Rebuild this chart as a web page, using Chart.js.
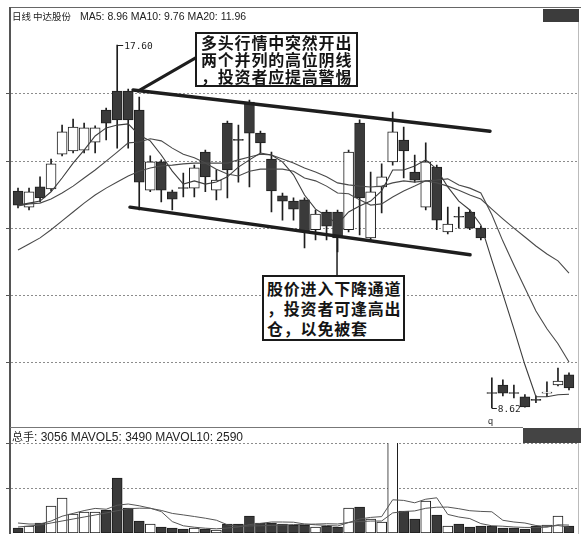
<!DOCTYPE html>
<html><head><meta charset="utf-8">
<script src="https://cdn.jsdelivr.net/npm/chart.js@4.4.1/dist/chart.umd.min.js"></script>
<style>
html,body{margin:0;padding:0;background:#fff;}
body{width:581px;height:534px;position:relative;overflow:hidden;font-family:"Liberation Sans","Noto Sans CJK SC",sans-serif;color:#222;}
canvas{position:absolute;left:0;}
#main{top:0;}
#vol{top:442px;}
.t{position:absolute;white-space:nowrap;color:#222;}
.box{position:absolute;border:2px solid #1a1a1a;background:#fff;font-family:"Noto Sans CJK SC",sans-serif;font-weight:700;color:#151515;box-sizing:border-box;font-size:16px;letter-spacing:0.8px;white-space:nowrap;}
.ln{position:absolute;}
</style></head><body>
<canvas id="main" width="581" height="426"></canvas>
<canvas id="vol" width="581" height="92"></canvas>

<div class="ln" style="left:10px;top:7px;width:571px;height:1px;background:#666;"></div>
<div class="ln" style="left:9px;top:7px;width:2px;height:527px;background:#555;"></div>
<div class="ln" style="left:578px;top:22px;width:1px;height:512px;background:#bbb;"></div>
<div class="ln" style="left:543px;top:9px;width:36px;height:13px;background:#3c3c3c;"></div>
<div class="ln" style="left:10px;top:427px;width:513px;height:1px;background:#777;"></div>
<div class="ln" style="left:523px;top:428px;width:58px;height:15px;background:#444;"></div>

<div class="t" style="left:12px;top:10px;font-size:9.5px;font-family:'Noto Sans CJK SC';line-height:12px;">日线</div>
<div class="t" style="left:33px;top:10px;font-size:9.5px;font-family:'Noto Sans CJK SC';line-height:12px;">中达股份</div>
<div class="t" style="left:80px;top:10px;font-size:10.5px;line-height:12px;">MA5: 8.96 MA10: 9.76 MA20: 11.96</div>

<div class="t" style="left:12px;top:429px;font-size:12px;line-height:14px;"><span style="font-family:'Noto Sans CJK SC';font-size:11px;">总手</span>: 3056 MAVOL5: 3490 MAVOL10: 2590</div>
<div class="t" style="left:488px;top:416px;font-size:9px;line-height:10px;">q</div>

<div class="box" style="left:195px;top:32px;width:163px;height:55px;line-height:17px;padding:0 0 0 4px;">多头行情中突然开出<br>两个并列的高位阴线<br>，投资者应提高警惕</div>
<div class="box" style="left:262px;top:275px;width:143px;height:66px;line-height:20px;padding:1px 0 0 3px;">股价进入下降通道<br>，投资者可逢高出<br>仓，以免被套</div>

<script>
// ---------- data ----------
const days = Array.from({length:51},(_,i)=>String(i+1));
const open  = [13.99,13.59,14.09,14.04,14.90,14.98,15.00,15.20,15.99,16.46,
               16.46,15.99,14.01,14.71,13.97,14.06,14.06,14.95,14.01,15.67,
               15.25,16.19,15.42,14.78,13.87,13.74,13.77,13.03,13.47,13.47,
               13.03,15.67,12.83,14.09,14.71,15.25,14.46,13.59,14.58,12.98,
               13.35,13.47,13.07,8.99,9.19,8.99,8.90,8.82,8.99,9.19,9.44];
const high  = [14.06,14.06,14.34,14.78,15.62,15.77,15.67,15.60,16.04,17.60,
               16.51,16.31,14.86,14.76,14.01,14.43,14.63,15.00,14.51,15.72,
               15.62,16.24,15.47,14.95,13.94,13.82,13.82,13.52,13.52,13.52,
               15.00,15.75,14.46,14.66,15.94,15.57,14.88,15.18,14.63,13.59,
               13.59,13.52,13.12,9.37,9.32,9.19,8.95,8.92,9.27,9.61,9.49];
const low   = [13.57,13.52,13.72,13.99,14.86,14.93,14.93,14.93,15.25,15.05,
               15.05,13.52,13.97,13.72,13.52,13.84,13.84,13.97,13.77,13.82,
               14.21,14.09,14.93,13.47,13.27,13.27,12.58,12.78,12.78,12.48,
               12.98,12.90,12.78,13.45,14.63,14.31,14.21,13.52,13.03,12.93,
               13.07,13.03,12.78,8.62,8.92,8.87,8.64,8.75,8.90,9.17,9.07];
const close = [13.64,13.97,13.82,14.66,15.45,15.57,15.55,15.55,15.67,15.75,
               15.75,14.21,14.71,14.01,13.79,14.05,14.56,14.34,14.26,14.51,
               15.24,15.42,15.18,13.99,13.74,13.54,12.98,13.42,13.12,12.83,
               14.95,13.82,13.97,14.34,15.45,14.98,14.26,14.71,13.27,13.17,
               13.34,13.07,12.83,8.98,8.99,8.98,8.65,8.81,9.00,9.29,9.12];
const ma5   = [13.64,13.69,13.74,13.97,14.31,14.68,15.00,15.35,15.55,15.62,
               15.65,15.37,15.23,14.88,14.48,14.16,14.24,14.16,14.21,14.34,
               14.58,14.76,14.93,14.88,14.71,14.39,13.89,13.54,13.37,13.17,
               13.47,13.62,13.74,13.99,14.51,14.51,14.61,14.76,14.53,14.09,
               13.74,13.52,13.15,12.28,11.44,10.58,9.69,8.90,8.90,8.95,8.96];
const ma10  = [13.62,13.67,13.69,13.79,13.94,14.11,14.31,14.51,14.73,14.95,
               15.18,15.20,15.28,15.23,15.05,14.90,14.81,14.68,14.53,14.41,
               14.36,14.48,14.53,14.53,14.53,14.48,14.31,14.24,14.11,13.94,
               13.92,13.77,13.64,13.67,13.84,13.99,14.11,14.24,14.26,14.29,
               14.14,14.06,13.94,13.40,12.75,12.16,11.59,11.02,10.58,10.21,9.76];
const ma20  = [12.53,12.68,12.83,13.03,13.25,13.47,13.69,13.89,14.06,14.21,
               14.36,14.48,14.56,14.61,14.63,14.66,14.68,14.68,14.68,14.68,
               14.76,14.83,14.90,14.88,14.78,14.68,14.56,14.46,14.34,14.19,
               14.14,14.11,14.09,14.11,14.19,14.24,14.21,14.24,14.19,14.11,
               14.01,13.89,13.79,13.54,13.30,13.07,12.85,12.63,12.43,12.26,11.96];
const volume = [2200,3080,4400,11880,15400,8360,9240,9240,10120,24200,
                11000,5280,3960,2640,2200,1760,2200,1760,1320,3960,
                3960,7480,4400,4400,3960,3520,3520,2640,3080,2640,
                11000,11440,6160,4840,42000,9680,6160,14080,7920,3080,
                3960,2640,3080,3080,2200,2200,1760,3080,3520,7480,3056];
const mavol5 = [4400,3960,3960,5280,7390,8620,9860,10820,10470,12230,
                12760,11970,10910,9420,5020,3170,2550,2110,1850,2200,
                2640,3700,4220,4840,4840,4750,3960,3610,3340,3080,
                4580,6160,6860,7220,14610,14340,13290,14870,15490,8180,
                7040,6340,4140,3170,2990,2640,2460,2460,2550,3610,3490];
const mavol10 = [2640,3080,3520,4400,5280,6160,7040,7920,8800,9810,
                 10690,10910,10870,9940,8620,7960,7260,6510,5630,3610,
                 2900,3120,3170,3340,3520,3700,3830,3920,4090,3960,
                 4660,5060,5240,5280,8840,9460,9720,10870,11350,11400,
                 10690,9810,9500,9330,5590,4840,4400,3300,2860,3300,2590];
// grid levels
const priceGridLines = [16.41,14.73,13.07,11.42,9.76];
const volGridLines = [19800,39600];
// author's drawn annotation lines (x = day index, y = price)
const upperChannel = [{x:10.44,y:16.49},{x:42.83,y:15.47}];
const lowerChannel = [{x:10.16,y:13.59},{x:41.02,y:12.41}];
const pointerTop   = [{x:16.24,y:17.30},{x:10.89,y:16.46}];
const pointerLow   = [{x:28.95,y:12.85},{x:28.95,y:11.87}];

// ---------- derived drawing structures ----------
const bodies = open.map((o,i)=>[o,close[i]]);
const wicks  = low.map((l,i)=>[l,high[i]]);
const isUp = close.map((c,i)=>c>=open[i]);
const dark = '#3a3a3a', ink = '#1e1e1e';
const bodyFill = isUp.map(u=>u?'#ffffff':dark);

function hline(ctx,x1,x2,y){ctx.beginPath();ctx.moveTo(x1,y);ctx.lineTo(x2,y);ctx.stroke();}

const mainOverlay = {
  id:'mainOverlay',
  beforeDatasetsDraw(chart){
    const y = chart.scales.y, ctx = chart.ctx;
    ctx.save();
    ctx.strokeStyle = '#8c8c8c'; ctx.lineWidth = 1; ctx.setLineDash([2,2]);
    priceGridLines.forEach(v=>{const py=Math.round(y.getPixelForValue(v))+0.5; hline(ctx,11,578,py);});
    ctx.setLineDash([]); ctx.strokeStyle='#555';
    priceGridLines.forEach(v=>{const py=Math.round(y.getPixelForValue(v))+0.5; hline(ctx,6,10,py);});
    ctx.restore();
  },
  afterDatasetsDraw(chart){
    const xs = chart.scales.x, ys = chart.scales.y, ctx = chart.ctx;
    const hi = Math.max(...high), lo = Math.min(...low);
    const ih = high.indexOf(hi), il = low.indexOf(lo);
    ctx.save();
    ctx.strokeStyle = ink; ctx.fillStyle = ink; ctx.lineWidth = 1;
    ctx.font = '9.5px "DejaVu Sans Mono", monospace'; ctx.textBaseline = 'middle';
    let px = xs.getPixelForValue(ih), py = Math.round(ys.getPixelForValue(hi))+0.5;
    hline(ctx,px,px+6,py); ctx.fillText(hi.toFixed(2),px+7,py+1);
    px = xs.getPixelForValue(il); py = Math.round(ys.getPixelForValue(lo))+0.5;
    hline(ctx,px,px+5,py); ctx.fillText(lo.toFixed(2),px+6,py+1);
    ctx.restore();
  }
};
const volOverlay = {
  id:'volOverlay',
  beforeDatasetsDraw(chart){
    const y = chart.scales.y, ctx = chart.ctx;
    ctx.save();
    ctx.strokeStyle = '#8c8c8c'; ctx.lineWidth = 1; ctx.setLineDash([2,2]);
    volGridLines.forEach(v=>{const py=Math.round(y.getPixelForValue(v))+0.5; hline(ctx,11,578,py);});
    ctx.setLineDash([]); ctx.strokeStyle='#555';
    volGridLines.forEach(v=>{const py=Math.round(y.getPixelForValue(v))+0.5; hline(ctx,6,10,py);});
    ctx.restore();
  }
};

const lineDs = (data,color,w)=>({type:'line',data,borderColor:color,borderWidth:w,pointRadius:0,tension:0,order:0,fill:false});
const annDs = (data,w)=>({type:'line',data,xAxisID:'xa',borderColor:ink,borderWidth:w,pointRadius:0,tension:0,order:0,fill:false,borderCapStyle:'round'});

new Chart(document.getElementById('main'),{
  type:'bar',
  data:{labels:days,datasets:[
    lineDs(ma5,'#3c3c3c',1.1),
    lineDs(ma10,'#4a4a4a',1.1),
    lineDs(ma20,'#4a4a4a',1.1),
    annDs(upperChannel,3.5),
    annDs(lowerChannel,3.5),
    annDs(pointerTop,3),
    annDs(pointerLow,1.5),
    {label:'body',data:bodies,backgroundColor:bodyFill,borderColor:ink,borderWidth:1,borderSkipped:false,barThickness:10,grouped:false,minBarLength:1,order:1},
    {label:'wick',data:wicks,backgroundColor:ink,borderWidth:0,barThickness:1,grouped:false,order:2}
  ]},
  options:{
    responsive:false,animation:false,devicePixelRatio:1,events:[],
    layout:{padding:{left:12.5,right:6.5,top:22,bottom:3}},
    plugins:{legend:{display:false},tooltip:{enabled:false}},
    scales:{
      x:{display:false,offset:true},
      xa:{type:'linear',display:false,offset:false,grid:{offset:false},min:-0.5,max:50.5},
      y:{display:false,min:8.25,max:18.17}
    }
  },
  plugins:[mainOverlay]
});

new Chart(document.getElementById('vol'),{
  type:'bar',
  data:{labels:days,datasets:[
    lineDs(mavol5,'#555',1),
    lineDs(mavol10,'#555',1),
    {label:'vol',data:volume,backgroundColor:bodyFill,borderColor:ink,borderWidth:1,borderSkipped:false,barThickness:10,order:1,clip:0}
  ]},
  options:{
    responsive:false,animation:false,devicePixelRatio:1,events:[],
    layout:{padding:{left:12.5,right:6.5,top:1,bottom:1}},
    plugins:{legend:{display:false},tooltip:{enabled:false}},
    scales:{x:{display:false,offset:true},y:{display:false,min:0,max:39600}}
  },
  plugins:[volOverlay]
});
</script>
</body></html>
